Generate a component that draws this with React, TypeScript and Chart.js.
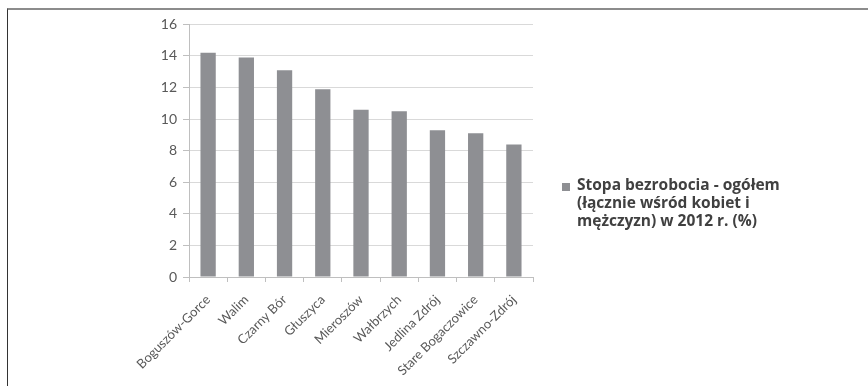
import React, { useEffect, useRef } from "react";
import { Chart, registerables } from "chart.js";

Chart.register(...registerables);

const categories = [
  "Boguszów-Gorce",
  "Walim",
  "Czarny Bór",
  "Głuszyca",
  "Mieroszów",
  "Wałbrzych",
  "Jedlina Zdrój",
  "Stare Bogaczowice",
  "Szczawno-Zdrój",
];
const values = [14.2, 13.9, 13.1, 11.9, 10.6, 10.5, 9.3, 9.1, 8.4];
const seriesLabel = [
  "Stopa bezrobocia - ogółem",
  "(łącznie wśród kobiet i",
  "mężczyzn) w 2012 r. (%)",
];
const yTicks = [0, 2, 4, 6, 8, 10, 12, 14, 16];

const BAR_COLOR = "#8e8f93";
const FONT = "Lato, 'Open Sans', sans-serif";

const legendPlugin = {
  id: "sideLegend",
  afterDraw(chart: any) {
    const ctx = chart.ctx;
    const area = chart.chartArea;
    const x0 = area.right + 29;
    const y0 = 176;
    ctx.save();
    ctx.fillStyle = BAR_COLOR;
    ctx.fillRect(x0, y0 - 3, 8, 8);
    ctx.fillStyle = "#404040";
    ctx.font = `bold 15.5px 'Open Sans', sans-serif`;
    ctx.textBaseline = "middle";
    ctx.textAlign = "left";
    seriesLabel.forEach((line, i) => {
      ctx.fillText(line, x0 + 15, y0 + i * 18);
    });
    ctx.restore();
  },
};

export default function App() {
  const ref = useRef<HTMLCanvasElement | null>(null);
  useEffect(() => {
    if (!ref.current) return;
    const chart = new Chart(ref.current, {
      type: "bar",
      data: {
        labels: categories,
        datasets: [
          {
            label: seriesLabel.join(" "),
            data: values,
            backgroundColor: BAR_COLOR,
            categoryPercentage: 1,
            barPercentage: 0.4,
          },
        ],
      },
      options: {
        responsive: false,
        animation: false,
        layout: { padding: { top: 5, right: 335, left: 0, bottom: 0 } },
        plugins: { legend: { display: false }, tooltip: { enabled: false } },
        scales: {
          x: {
            grid: {
              offset: true,
              drawOnChartArea: false,
              tickLength: 5,
              color: "#bfbfbf",
            },
            border: { display: true, color: "#bfbfbf" },
            ticks: {
              minRotation: 45,
              maxRotation: 45,
              color: "#595959",
              font: { family: FONT, size: 13 },
              padding: 10,
            },
            afterFit: (s: any) => {
              s.height = 109;
            },
          },
          y: {
            min: 0,
            max: 16,
            afterBuildTicks: (s: any) => {
              s.ticks = yTicks.map((v) => ({ value: v }));
            },
            grid: { color: "#d9d9d9", tickLength: 6, tickColor: "#bfbfbf" },
            border: { display: true, color: "#bfbfbf" },
            ticks: {
              color: "#595959",
              font: { family: FONT, size: 14 },
              padding: 6,
            },
            afterFit: (s: any) => {
              s.width = 181;
            },
          },
        },
      },
      plugins: [legendPlugin],
    });
    return () => chart.destroy();
  }, []);
  return (
    <div
      style={{
        position: "absolute",
        left: 7,
        top: 8,
        width: 861,
        height: 378,
        borderTop: "2px solid #8c8c8c",
        borderLeft: "1px solid #333",
        boxSizing: "border-box",
      }}
    >
      <canvas ref={ref} width={860} height={376} style={{ display: "block" }} />
    </div>
  );
}
